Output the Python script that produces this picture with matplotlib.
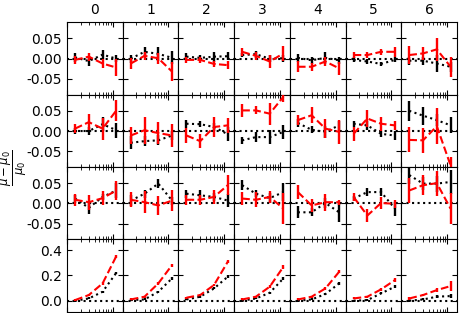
import matplotlib
matplotlib.use("Agg")
import matplotlib.pyplot as plt
import numpy as np

x = [1.5, 3, 6, 12]
columns = ["0", "1", "2", "3", "4", "5", "6"]

# red (dashed) series values per row / column
red = [
    [[-0.003, 0.005, -0.012, -0.022], [-0.012, 0.007, 0.001, -0.032], [-0.003, -0.003, -0.013, -0.016],
     [0.017, 0.007, -0.007, 0.013], [-0.02, -0.02, -0.007, -0.024], [0.009, 0.009, 0.017, 0.017],
     [0.009, 0.013, 0.023, -0.02]],
    [[0.006, 0.022, 0.006, 0.051], [-0.011, 0.002, -0.005, -0.011], [-0.011, -0.025, 0.010, 0.014],
     [0.051, 0.051, 0.043, 0.085], [0.027, 0.039, 0.006, -0.002], [-0.007, 0.031, 0.018, 0.014],
     [-0.022, -0.023, 0.012, -0.085]],
    [[0.009, 0.003, 0.013, 0.032], [0.009, 0.003, -0.005, 0.007], [0.009, 0.009, 0.016, 0.045],
     [0.012, 0.009, 0.016, -0.013], [0.028, -0.005, 0.003, 0.003], [0.016, -0.03, 0.001, -0.001],
     [0.032, 0.045, 0.05, -0.013]],
    [[0.005, 0.045, 0.137, 0.353], [0.01, 0.032, 0.137, 0.282], [0.024, 0.045, 0.124, 0.308],
     [0.01, 0.032, 0.111, 0.269], [0.01, 0.032, 0.097, 0.229], [0.018, 0.032, 0.09, 0.163],
     [0.018, 0.045, 0.084, 0.116]],
]
red_err = [
    [[0.01, 0.01, 0.01, 0.02], [0.014, 0.01, 0.013, 0.023], [0.008, 0.008, 0.008, 0.01],
     [0.01, 0.01, 0.017, 0.018], [0.014, 0.01, 0.012, 0.017], [0.008, 0.008, 0.008, 0.012],
     [0.022, 0.017, 0.029, 0.025]],
    [[0.012, 0.02, 0.027, 0.027], [0.02, 0.033, 0.027, 0.029], [0.019, 0.017, 0.024, 0.019],
     [0.017, 0.01, 0.027, 0.012], [0.012, 0.02, 0.023, 0.029], [0.017, 0.02, 0.017, 0.012],
     [0.031, 0.031, 0.045, 0.02]],
    [[0.015, 0.019, 0.017, 0.023], [0.019, 0.027, 0.023, 0.027], [0.012, 0.012, 0.017, 0.025],
     [0.017, 0.019, 0.015, 0.039], [0.017, 0.017, 0.021, 0.006], [0.01, 0.015, 0.014, 0.01],
     [0.031, 0.025, 0.031, 0.039]],
    [[0.008, 0.008, 0.01, 0.012], [0.008, 0.008, 0.01, 0.012], [0.008, 0.008, 0.01, 0.012],
     [0.008, 0.008, 0.01, 0.015], [0.008, 0.008, 0.01, 0.012], [0.008, 0.008, 0.01, 0.015],
     [0.01, 0.01, 0.015, 0.04]],
]
# black (dotted) series values per row / column
black = [
    [[0.003, -0.006, 0.01, 0.0], [0.0, 0.017, 0.012, 0.002], [0.005, 0.002, 0.005, 0.006],
     [0.009, 0.011, 0.0, 0.001], [0.002, -0.004, 0.002, -0.004], [-0.003, -0.007, -0.013, -0.003],
     [-0.005, -0.005, -0.012, -0.02]],
    [[0.0, 0.0, 0.017, 0.002], [-0.029, -0.025, -0.023, -0.011], [0.018, 0.017, 0.01, -0.008],
     [-0.023, -0.015, -0.015, -0.002], [0.02, 0.003, -0.002, 0.014], [0.018, 0.014, -0.007, -0.011],
     [0.05, 0.038, 0.027, 0.014]],
    [[0.012, -0.011, 0.016, 0.032], [0.007, 0.024, 0.049, 0.007], [0.024, 0.02, 0.016, 0.007],
     [0.045, 0.024, 0.013, 0.028], [-0.022, -0.022, 0.001, -0.022], [0.012, 0.028, 0.028, -0.013],
     [0.07, 0.049, 0.049, 0.053]],
    [[0.0, 0.018, 0.071, 0.221], [0.005, 0.01, 0.071, 0.177], [0.01, 0.032, 0.097, 0.19],
     [0.0, 0.018, 0.063, 0.177], [0.0, 0.01, 0.053, 0.137], [0.0, 0.005, 0.058, 0.111],
     [0.0, 0.01, 0.032, 0.037]],
]
black_err = [
    [[0.012, 0.012, 0.012, 0.008], [0.01, 0.012, 0.018, 0.016], [0.008, 0.008, 0.012, 0.01],
     [0.006, 0.009, 0.008, 0.008], [0.01, 0.008, 0.014, 0.008], [0.006, 0.006, 0.006, 0.006],
     [0.01, 0.01, 0.02, 0.012]],
    [[0.008, 0.01, 0.018, 0.018], [0.016, 0.012, 0.012, 0.012], [0.01, 0.008, 0.01, 0.017],
     [0.008, 0.012, 0.018, 0.018], [0.01, 0.009, 0.014, 0.012], [0.008, 0.012, 0.008, 0.01],
     [0.025, 0.022, 0.015, 0.02]],
    [[0.01, 0.015, 0.008, 0.019], [0.014, 0.01, 0.012, 0.01], [0.01, 0.012, 0.01, 0.017],
     [0.012, 0.008, 0.012, 0.023], [0.015, 0.01, 0.012, 0.025], [0.006, 0.01, 0.01, 0.017],
     [0.023, 0.016, 0.02, 0.029]],
    [[0.006, 0.008, 0.008, 0.01], [0.006, 0.008, 0.008, 0.01], [0.006, 0.008, 0.008, 0.01],
     [0.006, 0.008, 0.008, 0.01], [0.006, 0.008, 0.008, 0.01], [0.006, 0.008, 0.008, 0.01],
     [0.006, 0.008, 0.01, 0.015]],
]
row_ylim = [(-0.089, 0.09), (-0.089, 0.09), (-0.089, 0.09), (-0.087, 0.485)]
row_yticks = [[-0.05, 0.0, 0.05], [-0.05, 0.0, 0.05], [-0.05, 0.0, 0.05], [0.0, 0.2, 0.4]]

fig, axes = plt.subplots(4, 7, sharex=True, sharey='row', figsize=(4.73, 3.13), dpi=100)
fig.subplots_adjust(left=0.1416, right=0.966, top=0.9288, bottom=0.004, hspace=0, wspace=0)

for r in range(4):
    for c in range(7):
        ax = axes[r, c]
        ax.set_xscale('log')
        ax.axhline(0, color='black', ls=':', lw=1.5, zorder=1)
        ax.errorbar(x, black[r][c], yerr=black_err[r][c], color='black', ls=':', lw=1.5,
                    elinewidth=1.7, capsize=0, zorder=2)
        ax.errorbar(x, red[r][c], yerr=red_err[r][c], color='red', ls='--', lw=1.5,
                    elinewidth=1.7, capsize=0, zorder=3)
        ax.set_xlim(1.0, 16.5)
        ax.set_ylim(*row_ylim[r])
        ax.set_yticks(row_yticks[r])
        ax.tick_params(which='both', direction='in', top=True, right=True,
                       labelbottom=False, labelsize=10)
        if r == 0:
            ax.set_title(columns[c], fontsize=10)
        if c == 0:
            ax.set_yticklabels(['%.2f' % v if r < 3 else '%.1f' % v for v in row_yticks[r]])

fig.text(0.03, 0.463, r'$\frac{\mu-\mu_0}{\mu_0}$', rotation=90, ha='center', va='center', fontsize=12)
fig.savefig('out.png', dpi=100)
